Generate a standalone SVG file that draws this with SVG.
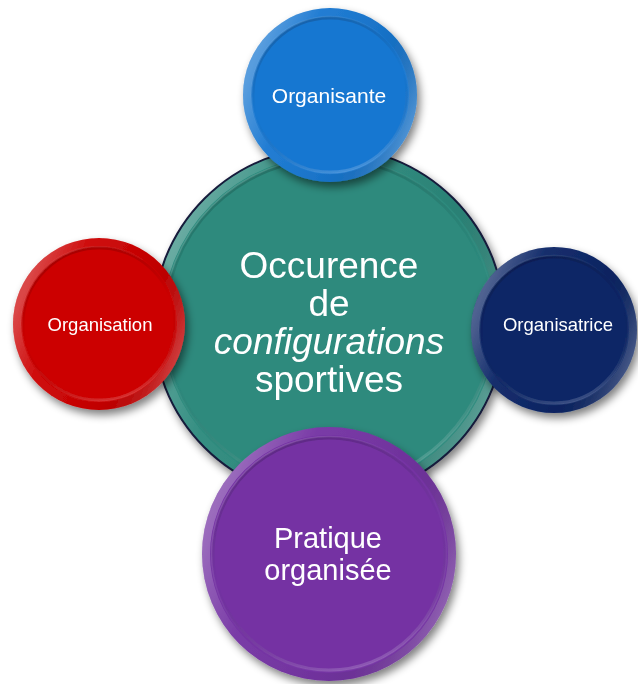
<svg xmlns="http://www.w3.org/2000/svg" width="638" height="684" viewBox="0 0 638 684">
  <defs>
    <filter id="shadow" x="-20%" y="-20%" width="150%" height="150%">
      <feGaussianBlur in="SourceAlpha" stdDeviation="4"/>
      <feOffset dx="3" dy="5" result="b"/>
      <feComponentTransfer><feFuncA type="linear" slope="0.5"/></feComponentTransfer>
      <feMerge><feMergeNode/><feMergeNode in="SourceGraphic"/></feMerge>
    </filter>
    <!-- outer rim sheen: bright at left and lower-right -->
    <linearGradient id="rim" x1="0" y1="0.4" x2="1" y2="0.8">
      <stop offset="0" stop-color="#ffffff" stop-opacity="0.28"/>
      <stop offset="0.25" stop-color="#ffffff" stop-opacity="0.04"/>
      <stop offset="0.65" stop-color="#000000" stop-opacity="0.06"/>
      <stop offset="1" stop-color="#ffffff" stop-opacity="0.3"/>
    </linearGradient>
    <!-- inner bevel edge: dark at top, light at bottom -->
    <linearGradient id="bevel" x1="0.3" y1="0" x2="0.6" y2="1">
      <stop offset="0" stop-color="#000000" stop-opacity="0.18"/>
      <stop offset="0.5" stop-color="#000000" stop-opacity="0"/>
      <stop offset="1" stop-color="#ffffff" stop-opacity="0.18"/>
    </linearGradient>
    <linearGradient id="bevelHi" x1="0" y1="0" x2="1" y2="1">
      <stop offset="0" stop-color="#ffffff" stop-opacity="0.22"/>
      <stop offset="0.5" stop-color="#ffffff" stop-opacity="0"/>
      <stop offset="1" stop-color="#ffffff" stop-opacity="0.1"/>
    </linearGradient>
  </defs>
  <style>
    .rim { fill: none; stroke: url(#rim); stroke-width: 8; }
    .bevel { fill: none; stroke: url(#bevel); stroke-width: 3; }
    .bevelhi { fill: none; stroke: url(#bevelHi); stroke-width: 1.5; }
    text { font-family: "Liberation Sans", Arial, sans-serif; fill: #ffffff; text-anchor: middle; }
    .small { font-size: 18.5px; }
    .mid { font-size: 21px; }
    .big { font-size: 29px; }
    .huge { font-size: 37px; }
  </style>

  <g id="connectors"></g>

  <!-- central hub -->
  <g id="hub" filter="url(#shadow)">
    <circle cx="329" cy="323" r="176" fill="#2d8a7d" stroke="#141a3a" stroke-width="2"/>
    <circle cx="329" cy="323" r="171" class="rim"/>
    <circle cx="329" cy="323" r="164" class="bevel"/>
    <circle cx="329" cy="323" r="165.5" class="bevelhi"/>
    <text class="huge" x="329" y="278">Occurence</text>
    <text class="huge" x="329" y="316">de</text>
    <text class="huge" x="329" y="354" font-style="italic">configurations</text>
    <text class="huge" x="329" y="392">sportives</text>
  </g>

  <g id="organisante" filter="url(#shadow)">
    <circle cx="330" cy="95" r="87" fill="#1877d1"/>
    <circle cx="330" cy="95" r="83" class="rim"/>
    <circle cx="330" cy="95" r="77" class="bevel"/>
    <circle cx="330" cy="95" r="78.5" class="bevelhi"/>
    <text class="mid" x="329" y="103">Organisante</text>
  </g>

  <g id="organisation" filter="url(#shadow)">
    <circle cx="99" cy="324" r="86" fill="#cc0000"/>
    <circle cx="99" cy="324" r="82" class="rim"/>
    <circle cx="99" cy="324" r="76" class="bevel"/>
    <circle cx="99" cy="324" r="77.5" class="bevelhi"/>
    <text class="small" x="100" y="331">Organisation</text>
  </g>

  <g id="organisatrice" filter="url(#shadow)">
    <circle cx="554" cy="330" r="83" fill="#0b2566"/>
    <circle cx="554" cy="330" r="79" class="rim"/>
    <circle cx="554" cy="330" r="73" class="bevel"/>
    <circle cx="554" cy="330" r="74.5" class="bevelhi"/>
    <text class="small" x="558" y="331">Organisatrice</text>
  </g>

  <g id="pratique" filter="url(#shadow)">
    <circle cx="329" cy="554" r="127" fill="#7433a3"/>
    <circle cx="329" cy="554" r="123" class="rim"/>
    <circle cx="329" cy="554" r="116" class="bevel"/>
    <circle cx="329" cy="554" r="117.5" class="bevelhi"/>
    <text class="big" x="328" y="548">Pratique</text>
    <text class="big" x="328" y="580">organisée</text>
  </g>
</svg>
